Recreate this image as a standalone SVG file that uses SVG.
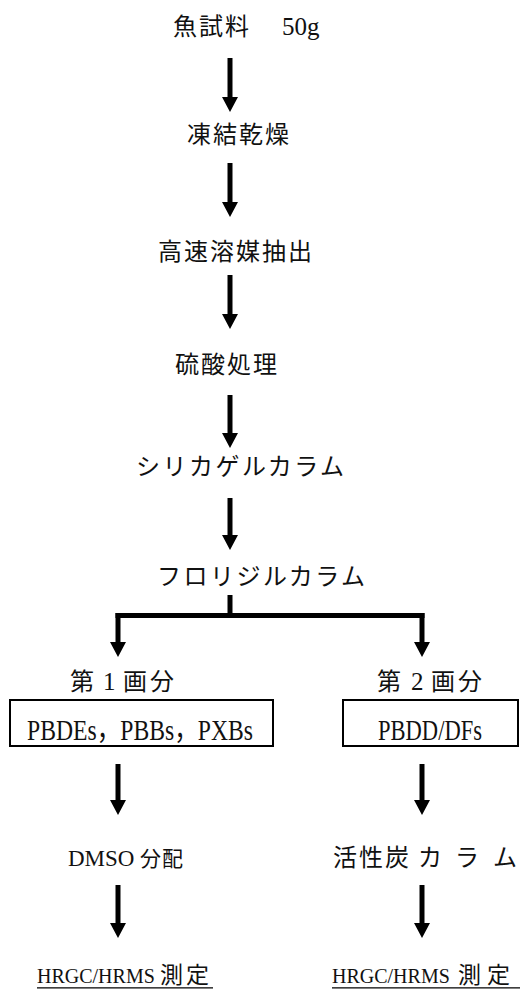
<svg xmlns="http://www.w3.org/2000/svg" width="522" height="989" viewBox="0 0 522 989">
<style>
.cjk{font-family:"Noto Sans CJK JP","Liberation Serif",sans-serif;font-size:24px;fill:#111;letter-spacing:2px}
.lat{font-family:"Liberation Serif","Noto Sans CJK JP",serif;fill:#111;letter-spacing:0}
.ln{stroke:#000;stroke-width:5;fill:none}
.arr{stroke:#000;stroke-width:5;fill:none;marker-end:url(#ah)}
.box{fill:#fff;stroke:#000;stroke-width:2}
.ul{stroke:#000;stroke-width:1.2}
</style>
<defs>
<marker id="ah" viewBox="0 0 15 16" refX="0" refY="8" markerWidth="15" markerHeight="16" markerUnits="userSpaceOnUse" orient="auto">
<path d="M0,0 L15,8 L0,16 Z" fill="#000"/>
</marker>
</defs>
<rect width="522" height="989" fill="#fff"/>
<g id="connectors">
<line class="arr" x1="230" y1="58" x2="230" y2="97"/>
<line class="arr" x1="230" y1="163" x2="230" y2="202"/>
<line class="arr" x1="230" y1="275" x2="230" y2="314"/>
<line class="arr" x1="230" y1="395" x2="230" y2="433"/>
<line class="arr" x1="230" y1="498" x2="230" y2="535"/>
<line class="ln" x1="230" y1="595" x2="230" y2="616"/>
<line class="ln" x1="115.5" y1="615.5" x2="424.5" y2="615.5"/>
<line class="arr" x1="118" y1="613" x2="118" y2="642"/>
<line class="arr" x1="422" y1="613" x2="422" y2="642"/>
<line class="arr" x1="118" y1="764" x2="118" y2="800"/>
<line class="arr" x1="422" y1="764" x2="422" y2="800"/>
<line class="arr" x1="118" y1="885" x2="118" y2="923"/>
<line class="arr" x1="422" y1="885" x2="422" y2="923"/>
</g>
<g id="n1"><text class="cjk" x="173" y="35">魚試料　<tspan class="lat" x="282" font-size="25">50g</tspan></text></g>
<g id="n2"><text class="cjk" x="187" y="143">凍結乾燥</text></g>
<g id="n3"><text class="cjk" x="158" y="260">高速溶媒抽出</text></g>
<g id="n4"><text class="cjk" x="175" y="373">硫酸処理</text></g>
<g id="n5"><text class="cjk" x="136" y="475" style="letter-spacing:2.5px">シリカゲルカラム</text></g>
<g id="n6"><text class="cjk" x="157" y="585" style="letter-spacing:2.5px">フロリジルカラム</text></g>
<g id="n7"><text class="cjk" x="70" y="690">第 <tspan class="lat" x="103" font-size="25">1 </tspan><tspan x="123" style="letter-spacing:3px">画分</tspan></text></g>
<g id="n8"><text class="cjk" x="377" y="690">第 <tspan class="lat" x="411" font-size="25">2 </tspan><tspan x="431" style="letter-spacing:3px">画分</tspan></text></g>
<g id="n9"><rect class="box" x="10" y="700" width="263" height="46"/>
<text class="lat" x="27" y="740" font-size="29" textLength="226" lengthAdjust="spacingAndGlyphs">PBDEs，PBBs，PXBs</text></g>
<g id="n10"><rect class="box" x="343" y="700" width="175" height="46"/>
<text class="lat" x="378" y="740" font-size="29" textLength="104" lengthAdjust="spacingAndGlyphs">PBDD/DFs</text></g>
<g id="n11"><text class="lat" x="68" y="866" font-size="23">DMSO<tspan class="cjk" x="140" style="font-size:21px;letter-spacing:1px">分配</tspan></text></g>
<g id="n12"><text class="cjk" x="333" y="866">活性炭<tspan x="418">カ</tspan><tspan x="455">ラ</tspan><tspan x="493">ム</tspan></text></g>
<g id="n13"><text class="lat" x="37" y="983" font-size="20">HRGC/HRMS<tspan class="cjk" x="160" style="font-size:23px;letter-spacing:3px">測定</tspan></text>
<line class="ul" x1="37" y1="987.8" x2="213" y2="987.8"/></g>
<g id="n14"><text class="lat" x="332" y="983" font-size="20">HRGC/HRMS<tspan class="cjk" x="458" style="font-size:23px;letter-spacing:6px">測定</tspan></text>
<line class="ul" x1="332" y1="987.8" x2="520" y2="987.8"/></g>
</svg>
